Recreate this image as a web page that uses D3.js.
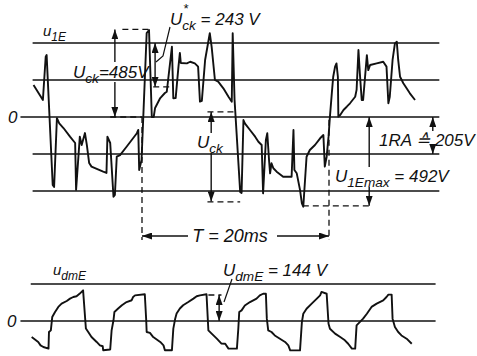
<!DOCTYPE html>
<html>
<head>
<meta charset="utf-8">
<script src="https://cdn.jsdelivr.net/npm/d3@7"></script>
<style>
body { margin: 0; background: #fff; }
svg text { font-family: "Liberation Sans", Arial, sans-serif; font-style: italic; fill: #111; }
</style>
</head>
<body>
<div id="chart"></div>
<script>
// oscillogram traces: [time in ms, volts]
var u1E = [[-11.6,177],[-10.6,94],[-10.3,334],[-10.2,343],[-9.55,-377],[-9.4,-388],[-9.1,-6],[-8.85,-35],
  [-8.4,-61],[-7.7,-109],[-7.15,-144],[-7.05,-404],[-6.65,-109],[-6.45,-155],[-6.1,-89],[-5.9,-155],
  [-5.65,-255],[-5.4,-275],[-4.15,-303],[-3.8,-310],[-3.7,-109],[-3.4,-144],[-3.05,-442],[-2.9,-432],
  [-2.7,-220],[-2.35,-211],[-1.65,-165],[-0.55,-90],[-0.4,-72],[-0.3,-294],[-0.05,-238],[0.5,465],
  [0.75,482],[1.05,0],[1.25,0],[1.4,50],[1.95,105],[2.45,133],[2.65,140],[3.2,389],[3.35,104],[3.6,105],
  [3.9,279],[4.05,355],[4.15,299],[4.8,297],[5.15,306],[5.65,297],[6.0,279],[6.2,85],[6.4,89],[6.75,316],
  [7.25,464],[7.45,389],[7.8,205],[8.15,196],[8.7,159],[9.25,112],[9.6,85],[9.7,464],[9.9,94],[10.5,-415],
  [10.65,-421],[10.85,-17],[11.0,-35],[11.55,-72],[12.1,-109],[12.45,-137],[12.8,-155],[12.95,-423],
  [13.25,-127],[13.4,-90],[13.6,-248],[13.7,-312],[13.85,-256],[14.05,-284],[14.4,-303],[15.1,-331],
  [16.0,-331],[16.2,-72],[16.3,-294],[16.55,-312],[16.9,-404],[17.1,-478],[17.25,-497],[17.6,-220],
  [17.95,-183],[18.5,-155],[19.05,-118],[19.4,-100],[19.55,-275],[19.75,-220],[19.95,-109],[20.1,2],
  [20.3,131],[20.45,223],[20.65,279],[20.8,297],[20.95,223],[21.0,2],[21.2,11],[21.55,39],[21.9,57],
  [22.25,76],[22.8,112],[22.95,150],[23.15,371],[23.3,242],[23.5,94],[23.65,94],[24.05,343],[24.2,260],
  [24.4,288],[25.1,297],[25.8,306],[26.15,279],[26.35,76],[26.5,112],[26.8,316],[27.05,408],[27.25,417],
  [27.4,316],[27.6,223],[27.95,187],[28.3,159],[28.65,131],[29.2,94]];

var udmE = [[-11.8,-89],[-11.1,-116],[-10.85,-135],[-10.55,-144],[-10.0,-153],[-9.95,-61],[-9.75,-52],
  [-9.6,22],[-9.3,50],[-8.95,78],[-8.6,96],[-8.05,111],[-7.7,124],[-7.35,133],[-7.0,137],[-6.65,152],
  [-6.3,170],[-6.0,-42],[-5.75,-61],[-5.4,-89],[-4.85,-116],[-4.5,-135],[-4.2,-140],[-4.15,-162],
  [-3.4,-158],[-3.25,-52],[-3.05,4],[-2.95,50],[-2.55,69],[-2.15,87],[-1.65,105],[-1.1,115],[-0.95,133],
  [-0.75,142],[0.3,148],[0.45,4],[0.5,-61],[0.85,-66],[1.2,-89],[1.95,-116],[2.3,-135],[2.45,-162],
  [3.2,-162],[3.35,-42],[3.55,13],[3.7,41],[4.05,69],[4.4,87],[4.95,105],[5.5,124],[5.85,137],[6.2,142],
  [6.9,148],[7.1,-52],[7.45,-70],[8.0,-98],[8.5,-125],[8.9,-126],[9.25,-153],[10.15,-153],[10.3,-43],
  [10.4,50],[10.65,59],[11.0,86],[11.55,105],[12.25,124],[12.6,142],[12.95,151],[13.25,151],[13.35,13],
  [13.5,-52],[13.85,-61],[14.2,-80],[14.75,-98],[15.3,-116],[15.65,-135],[15.85,-163],[16.9,-163],
  [17.1,-6],[17.25,40],[17.6,68],[18.15,96],[18.7,124],[19.05,142],[19.2,161],[19.75,151],[19.95,-15],
  [20.1,-43],[20.65,-70],[21.2,-89],[21.7,-107],[22.05,-126],[22.45,-153],[22.8,-153],[22.95,-24],
  [23.65,13],[24.05,40],[24.55,78],[25.1,96],[25.8,114],[26.15,133],[26.35,146],[26.7,146],[26.8,13],
  [27.05,-33],[27.4,-61],[27.75,-80],[28.3,-98],[28.85,-126]];

// reference lines (multiples of 1 RA = 205 V)
var gridTop = [410, 205, 0, -205, -410];
var gridBot = [205, 0];
var tSpan = [-11.7, 31.8];
var tZero = -13;

var width = 477, height = 356;
var svg = d3.select("#chart").append("svg")
  .attr("width", width).attr("height", height);

var x = d3.scaleLinear().domain([0, 20]).range([142, 329]);
var yTop = d3.scaleLinear().domain([-410, 410]).range([191, 43]);
var yBot = d3.scaleLinear().domain([0, 205]).range([321, 284]);

var ink = "#111";

var defs = svg.append("defs");
defs.append("marker").attr("id", "head")
  .attr("viewBox", "0 0 10 7").attr("refX", 10).attr("refY", 3.5)
  .attr("markerWidth", 10).attr("markerHeight", 7)
  .attr("markerUnits", "userSpaceOnUse")
  .attr("orient", "auto")
  .append("path").attr("d", "M0,0 L10,3.5 L0,7 Z").attr("fill", ink);

// grid lines
svg.selectAll(".gt").data(gridTop).enter().append("line")
  .attr("x1", function(d) { return x(d === 0 ? tZero : tSpan[0]); })
  .attr("x2", x(tSpan[1]))
  .attr("y1", function(d) { return yTop(d); })
  .attr("y2", function(d) { return yTop(d); })
  .attr("stroke", ink).attr("stroke-width", 1.6);

svg.selectAll(".gb").data(gridBot).enter().append("line")
  .attr("x1", function(d) { return x(d === 0 ? tZero : tSpan[0] - 0.2); })
  .attr("x2", x(tSpan[1] - 0.4))
  .attr("y1", function(d) { return yBot(d); })
  .attr("y2", function(d) { return yBot(d); })
  .attr("stroke", ink).attr("stroke-width", 1.6);

function dash(x1, y1, x2, y2) {
  svg.append("line").attr("x1", x1).attr("y1", y1).attr("x2", x2).attr("y2", y2)
    .attr("stroke", ink).attr("stroke-width", 1.3).attr("stroke-dasharray", "6,4");
}

function seg(x1, y1, x2, y2, head) {
  var l = svg.append("line").attr("x1", x1).attr("y1", y1).attr("x2", x2).attr("y2", y2)
    .attr("stroke", ink).attr("stroke-width", 1.4);
  if (head) l.attr("marker-end", "url(#head)");
}

// vertical dimension arrow, heads at both tips, optional gap for a label
function vArrow(px, yA, yB, gap) {
  var m1 = gap ? gap[0] : (yA + yB) / 2;
  var m2 = gap ? gap[1] : (yA + yB) / 2;
  seg(px, m1, px, yA, true);
  seg(px, m2, px, yB, true);
}

function label(px, py, parts, fs, anchor) {
  var t = svg.append("text").attr("x", px).attr("y", py)
    .attr("font-size", fs).attr("text-anchor", anchor || "start");
  var shift = 0;
  parts.forEach(function(p) {
    var s = p[1] === "sub" ? 5 : 0;
    t.append("tspan").attr("dy", s - shift)
      .attr("font-size", p[1] === "sub" ? fs * 0.8 : fs).text(p[0]);
    shift = s;
  });
  return t;
}

// dashed helpers of the upper trace
dash(x(-2.1), yTop(485), x(0.8), yTop(485));
dash(x(-3.4), yTop(0), x(0), yTop(0));
dash(x(0), yTop(0), x(0), 240);
dash(x(1.2), yTop(167), x(3.2), yTop(167));
dash(x(7.0), yTop(28), x(10.1), yTop(28));
dash(x(7.0), yTop(-470), x(10.5), yTop(-470));
dash(x(20), yTop(-15), x(20), 240);
dash(x(17.2), yTop(-492), x(24.3), yTop(-492));
dash(x(7.1), yBot(144), x(8.5), yBot(144));

// traces
var lineTop = d3.line().x(function(d) { return x(d[0]); }).y(function(d) { return yTop(d[1]); });
var lineBot = d3.line().x(function(d) { return x(d[0]); }).y(function(d) { return yBot(d[1]); });

svg.append("path").datum(u1E).attr("d", lineTop)
  .attr("fill", "none").attr("stroke", ink).attr("stroke-width", 1.9)
  .attr("stroke-linejoin", "round");
svg.append("path").datum(udmE).attr("d", lineBot)
  .attr("fill", "none").attr("stroke", ink).attr("stroke-width", 1.9)
  .attr("stroke-linejoin", "round");

// dimension arrows
vArrow(x(-2.9), yTop(485), yTop(0), [62, 82]);
vArrow(x(1.4), yTop(410), yTop(167));
vArrow(x(7.4), yTop(28), yTop(-468), [133, 153]);
vArrow(x(31.1), yTop(0), yTop(-205), [131, 147]);
vArrow(x(24.3), yTop(0), yTop(-492), [167, 187]);
vArrow(x(8.25), yBot(144), yBot(0));

// T = 20ms span
seg(188, 236, x(0), 236, true);
seg(277, 236, x(20), 236, true);

// leader lines
svg.append("path").attr("d", "M170,27 L163,56 L156,62")
  .attr("fill", "none").attr("stroke", ink).attr("stroke-width", 1.2);
svg.append("path").attr("d", "M232,279 L224,302")
  .attr("fill", "none").attr("stroke", ink).attr("stroke-width", 1.2);

// labels
label(43, 36, [["u"], ["1E", "sub"]], 15);
label(8, 123, [["0"]], 17);
label(7, 327, [["0"]], 17);
label(53, 275, [["u"], ["dmE", "sub"]], 15);

label(73, 78, [["U"], ["ck", "sub"], ["=485V"]], 17);
label(170, 25, [["U"], ["ck", "sub"], [" = 243 V"]], 17);
label(183, 13, [["*"]], 13);
label(197, 148, [["U"], ["ck", "sub"]], 17);
label(379, 146, [["1RA \u2259 205V"]], 17);
label(335, 182, [["U"], ["1Emax", "sub"], [" = 492V"]], 17);
label(230, 242, [["T = 20ms"]], 18, "middle");
label(223, 276, [["U"], ["dmE", "sub"], [" = 144 V"]], 17);
</script>
</body>
</html>
